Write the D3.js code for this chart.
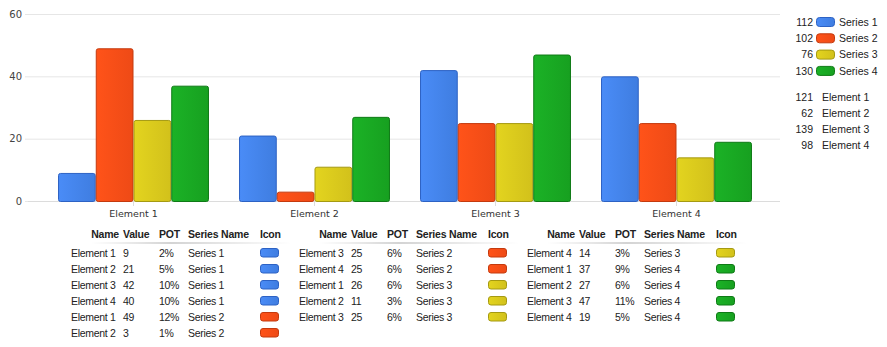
<!DOCTYPE html>
<html><head><meta charset="utf-8">
<script src="https://cdn.jsdelivr.net/npm/d3@7/dist/d3.min.js"></script>
<style>
html,body{margin:0;padding:0;background:#fff;}
svg{display:block;}
</style></head>
<body>
<svg id="chart" width="887" height="347"></svg>
<script>
const categories = ["Element 1", "Element 2", "Element 3", "Element 4"];
const seriesNames = ["Series 1", "Series 2", "Series 3", "Series 4"];
const series1 = [9, 21, 42, 40];
const series2 = [49, 3, 25, 25];
const series3 = [26, 11, 25, 14];
const series4 = [37, 27, 47, 19];
const yTicks = [0, 20, 40, 60];
const fillLight = ["#4a8cf7", "#ff5319", "#e3d41f", "#1bb226"];
const fillDark  = ["#3f7de0", "#ee4a16", "#d2c11b", "#17a020"];
const strokeCol = ["#2d62c4", "#c43a0e", "#a59a12", "#0f7a16"];

const seriesValues = [series1, series2, series3, series4];
const svg = d3.select("#chart");

const y = d3.scaleLinear().domain([0, 60]).range([201, 14]);
const x0 = d3.scaleBand().domain(categories).range([43, 767]).paddingInner(0.166).paddingOuter(0.083);
const x1 = d3.scaleBand().domain(seriesNames).range([0, x0.bandwidth()]);

// gradients
const defs = svg.append("defs");
seriesNames.forEach((s, i) => {
  const g = defs.append("linearGradient").attr("id", "grad" + i).attr("x1", "0").attr("x2", "1").attr("y1", "0").attr("y2", "0");
  g.append("stop").attr("offset", "0%").attr("stop-color", fillLight[i]);
  g.append("stop").attr("offset", "100%").attr("stop-color", fillDark[i]);
});
const lg = defs.append("linearGradient").attr("id", "hdrline").attr("x1", "0").attr("x2", "1");
lg.append("stop").attr("offset", "0%").attr("stop-color", "#fff");
lg.append("stop").attr("offset", "40%").attr("stop-color", "#a8a8a8");
lg.append("stop").attr("offset", "100%").attr("stop-color", "#fff");

// grid
const yAxis = d3.axisLeft(y).tickValues(yTicks).tickSize(-755).tickPadding(4);
const ga = svg.append("g").attr("transform", "translate(25,0)").call(yAxis);
ga.select(".domain").remove();
ga.selectAll(".tick line").attr("stroke", "#e6e6e6").attr("transform", "translate(0,0)");
ga.selectAll(".tick text").attr("x", -3).attr("font-family", "DejaVu Sans").attr("font-size", "10px").attr("fill", "#444");

// x axis
const xAxis = d3.axisBottom(x0).tickSize(5).tickPadding(4).tickSizeOuter(0);
const gx = svg.append("g").attr("transform", "translate(0,201)").call(xAxis);
gx.select(".domain").attr("d", "M28,0.5H780").attr("stroke", "#dcdcdc");
gx.selectAll(".tick line").attr("stroke", "#dcdcdc");
gx.selectAll(".tick text").attr("font-family", "DejaVu Sans").attr("font-size", "9.5px").attr("fill", "#333");

// bars
const groups = svg.append("g").selectAll("g").data(categories).join("g")
  .attr("transform", c => `translate(${x0(c)},0)`);
groups.selectAll("rect").data((c, ci) => seriesNames.map((s, si) => ({s, si, v: seriesValues[si][ci]})))
  .join("rect")
  .attr("x", d => x1(d.s) + 0.5)
  .attr("y", d => y(d.v) + 0.5)
  .attr("width", x1.bandwidth() - 1)
  .attr("height", d => y(0) - y(d.v))
  .attr("rx", 2)
  .attr("fill", d => `url(#grad${d.si})`)
  .attr("stroke", d => strokeCol[d.si])
  .attr("stroke-width", 1);

// legends
const total = d3.sum(seriesValues.flat());
const legFont = "Liberation Sans";
const leg = svg.append("g");
seriesNames.forEach((s, i) => {
  const yy = 22 + i * 16.3;
  leg.append("text").attr("x", 813).attr("y", yy).attr("dy", "0.35em").attr("text-anchor", "end")
    .attr("font-family", legFont).attr("font-size", "10.5px").attr("fill", "#222").text(d3.sum(seriesValues[i]));
  leg.append("rect").attr("x", 816.5).attr("y", yy - 4.5).attr("width", 18).attr("height", 9).attr("rx", 3)
    .attr("fill", `url(#grad${i})`).attr("stroke", strokeCol[i]);
  leg.append("text").attr("x", 839).attr("y", yy).attr("dy", "0.35em")
    .attr("font-family", legFont).attr("font-size", "10.5px").attr("fill", "#222").text(s);
});
categories.forEach((c, i) => {
  const yy = 97 + i * 16;
  leg.append("text").attr("x", 813).attr("y", yy).attr("dy", "0.35em").attr("text-anchor", "end")
    .attr("font-family", legFont).attr("font-size", "10.5px").attr("fill", "#222").text(d3.sum(seriesValues, v => v[i]));
  leg.append("text").attr("x", 822).attr("y", yy).attr("dy", "0.35em")
    .attr("font-family", legFont).attr("font-size", "10.5px").attr("fill", "#222").text(c);
});

// tables
const rows = [];
seriesNames.forEach((s, si) => categories.forEach((c, ci) => rows.push({name: c, value: seriesValues[si][ci], s, si})));
const chunks = [rows.slice(0, 6), rows.slice(6, 11), rows.slice(11, 16)];
const tableX = [71, 299, 527];
const tf = {family: "Liberation Sans", size: "10.5px"};
chunks.forEach((chunk, ti) => {
  const tx = tableX[ti];
  const g = svg.append("g").attr("transform", `translate(${tx},0)`);
  const hdr = [["Name", 48, "end"], ["Value", 52, "start"], ["POT", 88, "start"], ["Series Name", 117, "start"], ["Icon", 189, "start"]];
  hdr.forEach(([t, hx, an]) => g.append("text").attr("x", hx).attr("y", 234).attr("dy", "0.35em").attr("text-anchor", an)
    .attr("font-family", tf.family).attr("font-size", tf.size).attr("font-weight", "bold").attr("fill", "#222")
    .attr("letter-spacing", "-0.2px").text(t));
  g.append("rect").attr("x", 20).attr("y", 242.5).attr("width", 200).attr("height", 1).attr("fill", "url(#hdrline)");
  chunk.forEach((r, ri) => {
    const yy = 253 + ri * 16;
    const cells = [[r.name, 0], [r.value, 52], [Math.round(r.value / total * 100) + "%", 88], [r.s, 117]];
    cells.forEach(([t, cx]) => g.append("text").attr("x", cx).attr("y", yy).attr("dy", "0.35em")
      .attr("font-family", tf.family).attr("font-size", tf.size).attr("fill", "#222").attr("letter-spacing", "-0.3px").text(t));
    g.append("rect").attr("x", 189.5).attr("y", yy - 4.5).attr("width", 18).attr("height", 8.5).attr("rx", 2.5)
      .attr("fill", `url(#grad${r.si})`).attr("stroke", strokeCol[r.si]);
  });
});
</script>
</body></html>
